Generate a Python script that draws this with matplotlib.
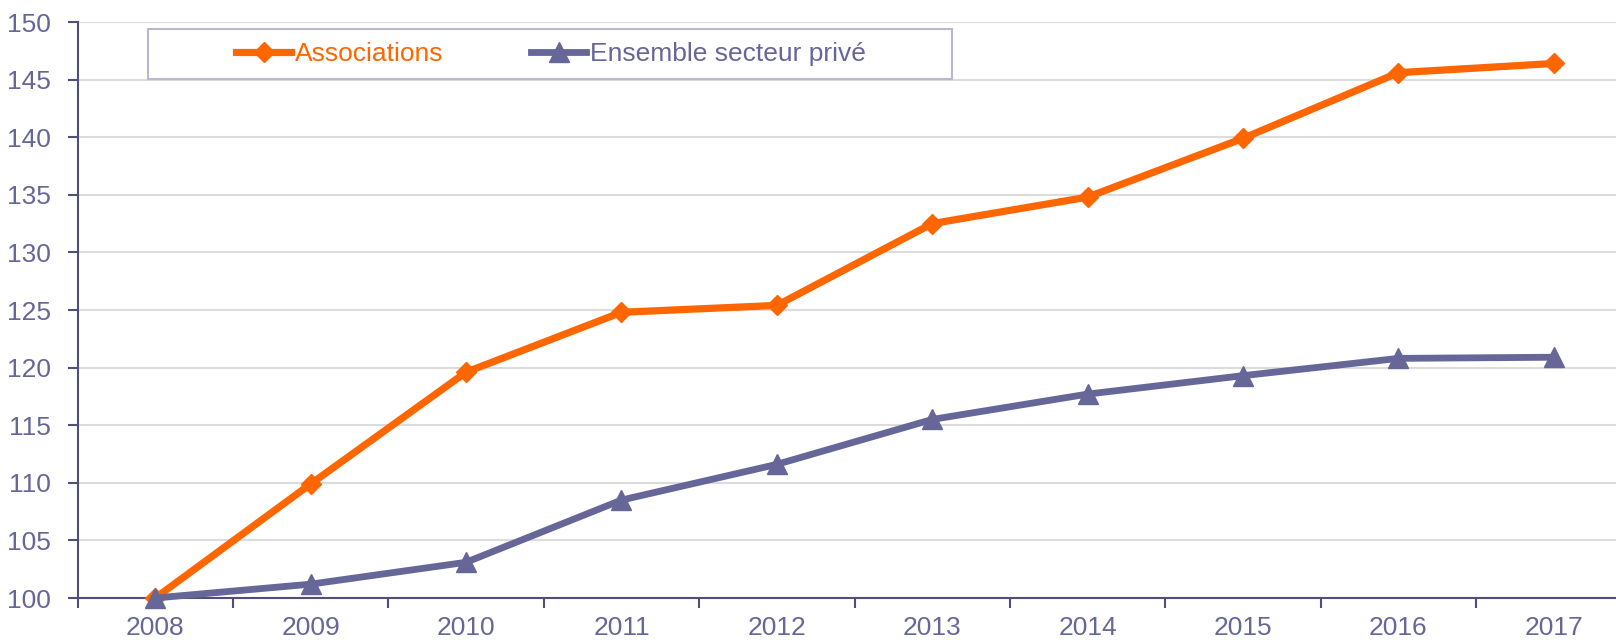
import numpy as np
import matplotlib.pyplot as plt
from matplotlib.patches import Rectangle

# ── Data ──────────────────────────────────────────────────────────────────────
years        = ['2008', '2009', '2010', '2011', '2012',
                '2013', '2014', '2015', '2016', '2017']
associations = [100.0, 109.9, 119.6, 124.8, 125.4,
                132.5, 134.8, 139.9, 145.6, 146.4]
prive        = [100.0, 101.2, 103.1, 108.5, 111.6,
                115.5, 117.7, 119.3, 120.8, 120.9]
y_ticks      = [100, 105, 110, 115, 120, 125, 130, 135, 140, 145, 150]

ORANGE = '#FF6600'
PURPLE = '#666699'
AXIS   = '#4F4F78'
GRID   = '#DCDCDC'

plt.rcParams['font.family'] = ['Liberation Sans', 'DejaVu Sans']

fig = plt.figure(figsize=(16.16, 6.4), dpi=100)
ax = fig.add_axes([0.048, 0.065625, 0.9616, 0.9])

x = np.arange(len(years))

ax.plot(x, associations, color=ORANGE, lw=5.2, marker='D', ms=10.5,
        label='Associations', clip_on=False, zorder=3)
ax.plot(x, prive, color=PURPLE, lw=4.9, marker='^', ms=15,
        label='Ensemble secteur privé', clip_on=False, zorder=4)

# ── Axes styling ──────────────────────────────────────────────────────────────
ax.set_xlim(-0.5, len(years) - 0.5)
ax.set_ylim(100, 150)
ax.set_yticks(y_ticks)
ax.set_xticks(x)
ax.set_xticklabels(years)
ax.set_xticks(np.arange(len(years) + 1) - 0.5, minor=True)

ax.tick_params(axis='x', which='major', length=0, pad=13,
               labelsize=19, labelcolor=PURPLE)
ax.tick_params(axis='x', which='minor', length=7, width=1.5,
               color=AXIS, direction='out')
ax.tick_params(axis='y', length=7, width=1.5, color=AXIS, pad=12,
               labelsize=19, labelcolor=PURPLE)

for side in ['top', 'right']:
    ax.spines[side].set_visible(False)
for side in ['left', 'bottom']:
    ax.spines[side].set_color(AXIS)
    ax.spines[side].set_linewidth(1.5)
    ax.spines[side].set_zorder(2.5)

ax.grid(axis='y', color=GRID, lw=1.5)
ax.set_axisbelow(True)

# ── Legend box ────────────────────────────────────────────────────────────────
fig.patches.append(Rectangle((148 / 1616, 1 - 79 / 640), 804 / 1616, 50 / 640,
                             transform=fig.transFigure, facecolor='white',
                             edgecolor='#B8B8D0', lw=1.5, zorder=5))
handles, labels = ax.get_legend_handles_labels()
leg = fig.legend(handles, labels, loc='center',
                 bbox_to_anchor=(551 / 1616, 1 - 54 / 640),
                 ncol=2, frameon=False, fontsize=19, handlelength=2.1,
                 handletextpad=0.15, columnspacing=3.3, numpoints=1,
                 labelcolor='linecolor')
leg.set_zorder(6)

fig.savefig('out.png', dpi=100)
